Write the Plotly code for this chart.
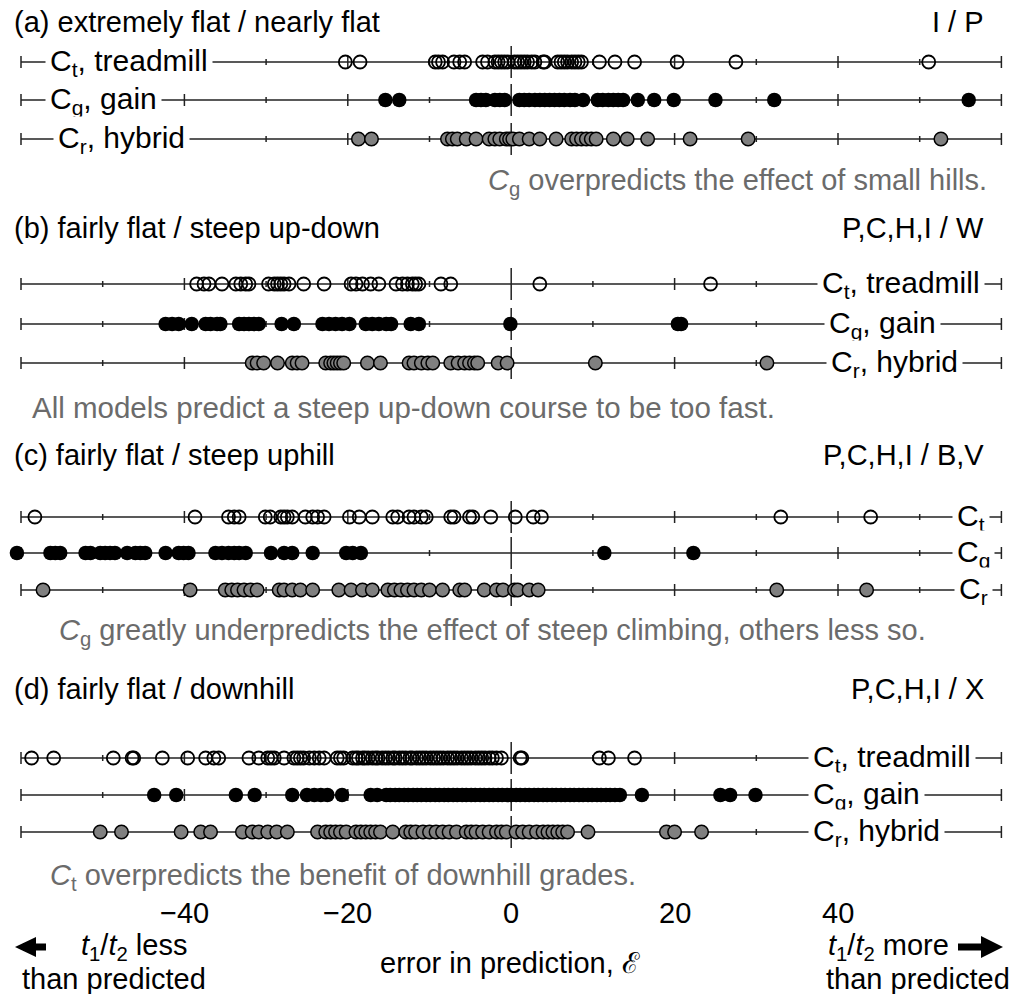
import plotly.graph_objects as go

W, H = 1028, 994
FONT = "Liberation Sans, Arial, sans-serif"
FS_TITLE = 29
FS_LABEL = 30
FS_AXIS = 29
GRAY_TXT = "#6b6b6b"

# ---------------- data: error in prediction (%) ----------------
a_treadmill = [-20.3, -18.5, -9.3, -8.9, -8.4, -7.0, -6.3, -5.7, -3.5, -2.9, -2.0, -1.6, -1.2, -0.8, -0.4,
               0.4, 0.8, 1.2, 1.6, 2.0, 2.5, 2.9, 3.9, 4.1, 5.7, 6.1, 6.5, 6.9, 7.4, 7.8, 8.2, 8.6,
               10.8, 12.7, 15.1, 20.3, 27.5, 51.1]
a_gain = [-15.4, -13.7, -4.3, -3.7, -3.1, -2.0, -1.4, -0.8, 1.0, 1.6, 2.2, 2.9, 3.5, 4.1, 4.7, 5.3,
          5.9, 6.5, 7.2, 7.8, 8.8, 10.6, 11.2, 11.9, 12.5, 13.1, 13.7, 15.5, 17.5, 19.9, 25.0, 32.2, 56.0]
a_hybrid = [-18.7, -17.1, -7.8, -7.2, -6.6, -5.5, -4.3, -2.7, -2.0, -1.4, -0.6, -0.2, 0.2, 1.0, 2.2,
            3.5, 5.5, 7.4, 8.0, 8.6, 9.2, 9.8, 10.4, 12.5, 14.2, 16.7, 21.9, 29.0, 52.6]

b_treadmill = [-38.5, -37.6, -37.0, -35.4, -33.7, -33.1, -32.5, -32.1, -29.7, -29.0, -28.6, -28.2,
               -27.8, -27.2, -25.4, -22.9, -19.6, -19.0, -18.2, -17.2, -16.2, -14.1, -13.3, -12.7,
               -12.1, -11.7, -11.3, -8.6, -7.4, 3.5, 24.4]
b_gain = [-42.3, -41.5, -40.7, -39.1, -37.4, -36.8, -36.0, -35.6, -33.3, -32.7, -32.1, -31.5, -30.9,
          -28.1, -26.6, -23.1, -22.3, -21.5, -20.7, -19.8, -17.8, -17.0, -16.2, -15.3, -14.7,
          -12.3, -11.3, -0.1, 20.4, 20.8]
b_hybrid = [-31.7, -31.1, -30.3, -28.6, -26.8, -26.2, -25.6, -22.7, -22.1, -21.7, -21.3, -20.9,
            -20.5, -17.6, -16.0, -12.5, -11.9, -11.0, -10.2, -9.6, -7.4, -6.5, -5.7, -5.1, -4.5,
            -4.1, -1.6, -0.5, 10.3, 31.3]

c_treadmill = [-58.3, -38.7, -34.6, -33.9, -33.3, -30.1, -29.5, -28.2, -27.8, -27.4, -26.8, -25.2,
               -24.3, -23.7, -22.9, -19.8, -18.6, -17.0, -14.5, -13.9, -12.5, -11.9, -11.0, -10.4,
               -7.4, -7.0, -5.1, -4.7, -2.5, 0.5, 2.7, 3.7, 33.0, 44.0]
c_gain = [-60.5, -56.4, -55.8, -55.2, -52.1, -51.5, -50.3, -49.7, -49.1, -48.5, -47.0, -46.0, -45.4,
          -44.8, -42.3, -40.7, -40.1, -39.5, -36.2, -35.4, -34.6, -33.9, -33.3, -32.5, -29.4,
          -27.8, -26.8, -24.3, -20.2, -19.4, -18.4, 11.4, 22.3]
c_hybrid = [-57.3, -39.3, -35.0, -34.2, -33.5, -32.7, -31.9, -31.1, -28.4, -27.8, -26.8, -25.8,
            -24.3, -21.1, -19.6, -18.2, -17.0, -15.1, -14.3, -13.5, -12.7, -11.9, -11.0, -10.0,
            -8.4, -6.3, -5.7, -3.3, -1.8, -1.0, 0.4, 0.8, 2.2, 3.3, 32.5, 43.5]

d_treadmill = [-58.7, -56.0, -48.7, -46.4, -46.2, -42.7, -39.6, -37.4, -36.4, -35.8, -32.1, -30.9,
               -29.8, -29.4, -29.0, -27.8, -26.6, -26.2, -25.8, -25.4, -24.7, -24.1, -23.5, -22.9,
               -21.3, -20.9, -20.5, -19.4, -19.0, -18.7, -18.2, -17.9, -17.5, -17.0, -16.6, -16.3,
               -15.8, -15.4, -15.0, -14.5, -14.2, -13.7, -13.3, -12.9, -12.4, -12.1, -11.6, -11.2,
               -10.8, -10.4, -9.9, -9.5, -9.1, -8.7, -8.3, -7.8, -7.4, -7.0, -6.6, -6.1, -5.7,
               -5.3, -4.9, -4.4, -4.0, -3.6, -3.2, -2.7, -2.3, -1.8, -1.2, 1.1, 1.3, 10.8, 11.9, 15.1]
d_gain = [-43.7, -41.0, -33.7, -31.4, -26.8, -25.0, -24.1, -23.3, -22.5, -20.7, -17.2, -16.4,
          -15.3, -14.8, -14.2, -13.7, -13.1, -12.6, -12.0, -11.5, -11.0, -10.4, -9.9, -9.3, -8.8,
          -8.2, -7.7, -7.1, -6.6, -6.0, -5.5, -4.9, -4.4, -3.8, -3.3, -2.7, -2.2, -1.6, -1.1,
          -0.5, 0.0, 0.6, 1.1, 1.7, 2.2, 2.8, 3.3, 3.9, 4.4, 5.0, 5.5, 6.1, 6.6, 7.2, 7.7, 8.3,
          8.8, 9.4, 9.9, 10.5, 11.0, 11.6, 12.1, 12.7, 13.3, 16.0, 25.6, 26.8, 29.9]
d_hybrid = [-50.3, -47.7, -40.4, -38.0, -36.8, -32.9, -31.7, -30.9, -29.8, -28.7, -27.4, -23.7,
            -22.7, -22.1, -21.5, -20.9, -20.2, -19.0, -18.4, -17.8, -17.2, -16.6, -16.0, -14.5,
            -12.9, -12.3, -11.7, -10.8, -10.0, -9.2, -8.4, -7.6, -6.7, -5.5, -4.9, -4.3, -3.5,
            -2.7, -1.8, -1.2, -0.6, 0.6, 1.4, 2.2, 3.1, 3.9, 4.5, 5.1, 5.7, 6.3, 6.9, 9.4,
            19.0, 20.0, 23.3]

tick_values = [-40, -20, 0, 20, 40]
tick_labels = ["\u221240", "\u221220", "0", "20", "40"]

panel_titles = ["(a) extremely flat / nearly flat", "(b) fairly flat / steep up-down",
                "(c) fairly flat / steep uphill", "(d) fairly flat / downhill"]
panel_codes = ["I / P", "P,C,H,I / W", "P,C,H,I / B,V", "P,C,H,I / X"]
captions = ["<i>C</i><sub>g</sub> overpredicts the effect of small hills.",
            "All models predict a steep up-down course to be too fast.",
            "<i>C</i><sub>g</sub> greatly underpredicts the effect of steep climbing, others less so.",
            "<i>C</i><sub>t</sub> overpredicts the benefit of downhill grades."]
long_labels = ["C<sub>t</sub>, treadmill", "C<sub>g</sub>, gain", "C<sub>r</sub>, hybrid"]
short_labels = ["C<sub>t</sub>", "C<sub>g</sub>", "C<sub>r</sub>"]

series = [[a_treadmill, a_gain, a_hybrid],
          [b_treadmill, b_gain, b_hybrid],
          [c_treadmill, c_gain, c_hybrid],
          [d_treadmill, d_gain, d_hybrid]]

# ---------------- layout geometry (pixels) ----------------
X0PX, SCALE = 511.2, 8.17          # pixel of zero, pixels per unit
row_y = [[62, 100, 139], [284, 324, 363], [517, 553, 590], [758, 795, 832]]
title_y = [22, 228, 455, 689]
caption_pos = [(989, 182, "right", 29), (30, 407, "left", 29.5),
               (57, 632, "left", 29), (48, 877, "left", 29)]
label_left = [[50, 50, 58], [822, 829, 831], [957, 957, 959], [813, 813, 813]]

styles = [
    dict(symbol="circle-open", size=13, color="black", line=dict(width=1.8, color="black")),
    dict(symbol="circle", size=14.5, color="black", line=dict(width=0)),
    dict(symbol="circle", size=13.5, color="#808080", line=dict(width=1.5, color="black")),
]

fig = go.Figure()
shapes = []
annotations = []


def px(x):
    return x / W


LINE_C = "#222222"
for p in range(4):
    for r in range(3):
        yr = row_y[p][r]
        fig.add_trace(go.Scatter(x=[-60, 60], y=[yr, yr], mode="lines",
                                 line=dict(color=LINE_C, width=1.5), hoverinfo="skip"))
        for v in range(-60, 61, 10):
            if v == 0:
                h = 16
            elif abs(v) in (20, 40, 60):
                h = 6
            else:
                h = 3
            shapes.append(dict(type="line", xref="x", yref="y", x0=v, x1=v, y0=yr - h, y1=yr + h,
                               line=dict(color=LINE_C, width=1.5), layer="below"))
for p in range(4):
    for r in range(3):
        yr = row_y[p][r]
        fig.add_trace(go.Scatter(x=series[p][r], y=[yr] * len(series[p][r]), mode="markers",
                                 marker=styles[r], hoverinfo="skip"))
        txt = short_labels[r] if p == 2 else long_labels[r]
        annotations.append(dict(x=px(label_left[p][r] - 5), y=yr, xref="paper", yref="y", text=txt,
                                showarrow=False, xanchor="left", yanchor="middle",
                                bgcolor="white", borderpad=4,
                                font=dict(family=FONT, size=FS_LABEL, color="black")))
    annotations.append(dict(x=px(12), y=title_y[p], xref="paper", yref="y", text=panel_titles[p],
                            showarrow=False, xanchor="left", yanchor="middle",
                            font=dict(family=FONT, size=FS_TITLE, color="black")))
    annotations.append(dict(x=px(986), y=title_y[p], xref="paper", yref="y", text=panel_codes[p],
                            showarrow=False, xanchor="right", yanchor="middle",
                            font=dict(family=FONT, size=FS_TITLE, color="black")))
    cx, cy, anc, cfs = caption_pos[p]
    annotations.append(dict(x=px(cx), y=cy, xref="paper", yref="y", text=captions[p],
                            showarrow=False, xanchor=anc, yanchor="middle",
                            font=dict(family=FONT, size=cfs, color=GRAY_TXT)))

# bottom axis labels
for v, t in zip(tick_values, tick_labels):
    annotations.append(dict(x=v, y=913, xref="x", yref="y", text=t, showarrow=False,
                            xanchor="center", yanchor="middle",
                            font=dict(family=FONT, size=FS_AXIS, color="black")))
annotations += [
    dict(x=px(79), y=947, xref="paper", yref="y",
         text="<i>t</i><sub>1</sub>/<i>t</i><sub>2</sub> less", showarrow=False,
         xanchor="left", yanchor="middle", font=dict(family=FONT, size=FS_AXIS, color="black")),
    dict(x=px(114), y=979, xref="paper", yref="y", text="than predicted", showarrow=False,
         xanchor="center", yanchor="middle", font=dict(family=FONT, size=FS_AXIS, color="black")),
    dict(x=px(510), y=963, xref="paper", yref="y", text="error in prediction, \u2130", showarrow=False,
         xanchor="center", yanchor="middle", font=dict(family=FONT, size=FS_AXIS, color="black")),
    dict(x=px(826), y=947, xref="paper", yref="y",
         text="<i>t</i><sub>1</sub>/<i>t</i><sub>2</sub> more", showarrow=False,
         xanchor="left", yanchor="middle", font=dict(family=FONT, size=FS_AXIS, color="black")),
    dict(x=px(918), y=979, xref="paper", yref="y", text="than predicted", showarrow=False,
         xanchor="center", yanchor="middle", font=dict(family=FONT, size=FS_AXIS, color="black")),
]


def arrow_path(tip, back, shaft_end, yc, head_h, shaft_h):
    pts = [(tip, yc), (back, yc - head_h), (back, yc - shaft_h), (shaft_end, yc - shaft_h),
           (shaft_end, yc + shaft_h), (back, yc + shaft_h), (back, yc + head_h)]
    return "M " + " L ".join(f"{px(x):.5f},{y}" for x, y in pts) + " Z"


shapes.append(dict(type="path", xref="paper", yref="y", path=arrow_path(15, 36, 46, 947, 10, 3.5),
                   fillcolor="black", line=dict(width=0)))
shapes.append(dict(type="path", xref="paper", yref="y", path=arrow_path(1003, 981, 958, 947, 11, 3.5),
                   fillcolor="black", line=dict(width=0)))

fig.update_layout(
    width=W, height=H, autosize=False,
    margin=dict(l=0, r=0, t=0, b=0, pad=0),
    paper_bgcolor="white", plot_bgcolor="white",
    showlegend=False,
    xaxis=dict(range=[-X0PX / SCALE, (W - X0PX) / SCALE], visible=False, fixedrange=True),
    yaxis=dict(range=[H, 0], visible=False, fixedrange=True),
    shapes=shapes, annotations=annotations,
    font=dict(family=FONT, size=FS_TITLE),
)

fig.write_html("out.html", config={"displayModeBar": False},
               post_script="document.body.style.margin='0';document.body.style.overflow='hidden';")
